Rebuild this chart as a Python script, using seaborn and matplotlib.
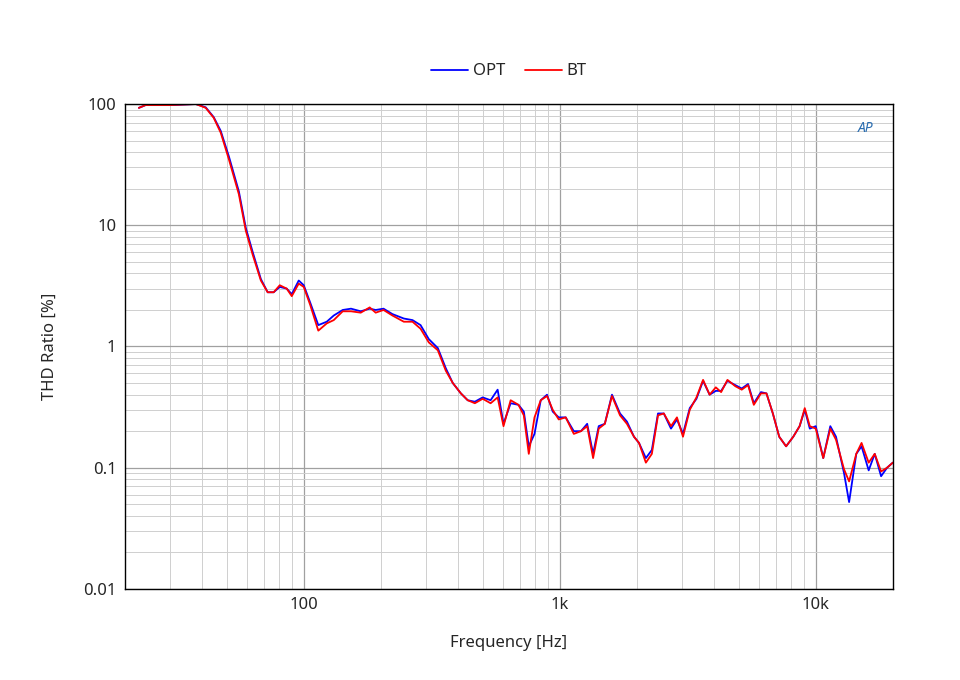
import matplotlib
matplotlib.use("Agg")
import matplotlib.pyplot as plt
import seaborn as sns
import pandas as pd
from matplotlib.ticker import FixedLocator, NullFormatter, LogLocator

freq = [22.7,24.1,30,37.9,41.4,44.5,47.4,51,55.8,59.4,63.2,68,72.3,76.3,80.6,85.8,89.8,95.6,100,106,114,123,131,142,153,167,181,191,205,222,246,266,286,308,334,359,382,411,437,466,500,537,572,603,643,690,724,757,797,843,892,939,991,1055,1135,1210,1280,1350,1420,1500,1600,1720,1830,1950,2040,2170,2290,2420,2550,2720,2870,3030,3220,3420,3630,3850,4070,4270,4520,4850,5140,5440,5730,6110,6420,6800,7200,7660,8170,8650,9060,9480,10000,10700,11400,12000,12900,13500,14400,15100,16100,17000,18000,19000,20000]
bt = [93,98,98,100,93,77,58,35,18,9,5.7,3.5,2.8,2.8,3.2,3.0,2.6,3.3,3.1,2.2,1.35,1.55,1.65,1.95,1.95,1.9,2.1,1.9,2.0,1.8,1.6,1.6,1.4,1.08,0.93,0.63,0.5,0.41,0.36,0.34,0.37,0.34,0.38,0.22,0.36,0.33,0.27,0.13,0.26,0.36,0.39,0.30,0.25,0.26,0.19,0.2,0.22,0.12,0.21,0.23,0.39,0.27,0.23,0.18,0.16,0.11,0.13,0.27,0.28,0.22,0.26,0.18,0.30,0.38,0.53,0.40,0.46,0.42,0.53,0.47,0.44,0.48,0.33,0.41,0.41,0.28,0.18,0.15,0.18,0.22,0.31,0.22,0.21,0.12,0.21,0.17,0.097,0.077,0.13,0.16,0.11,0.13,0.093,0.1,0.11]
opt = [93,98,98,100,94,78,60,37,19,9.5,6.0,3.6,2.8,2.8,3.1,3.0,2.7,3.5,3.2,2.3,1.5,1.6,1.8,2.0,2.05,1.95,2.05,2.0,2.05,1.85,1.7,1.65,1.5,1.15,0.97,0.66,0.5,0.41,0.36,0.35,0.38,0.36,0.44,0.23,0.34,0.33,0.29,0.15,0.19,0.36,0.4,0.29,0.26,0.26,0.2,0.2,0.23,0.13,0.22,0.23,0.4,0.28,0.24,0.18,0.16,0.12,0.14,0.28,0.28,0.21,0.25,0.19,0.31,0.37,0.52,0.40,0.43,0.43,0.52,0.48,0.45,0.49,0.34,0.42,0.41,0.28,0.18,0.15,0.18,0.22,0.3,0.21,0.22,0.12,0.22,0.18,0.09,0.052,0.13,0.15,0.095,0.13,0.085,0.1,0.11]

df = pd.concat([pd.DataFrame({"f":freq,"v":opt,"s":"OPT"}),
                pd.DataFrame({"f":freq,"v":bt,"s":"BT"})])

sns.set_style("white")
plt.rcParams['font.family'] = ['Noto Sans', 'DejaVu Sans']
fig = plt.figure(figsize=(9.6,6.8), dpi=100)
ax = fig.add_axes([0.130,0.134,0.800,0.713])
sns.lineplot(data=df, x="f", y="v", hue="s", palette={"OPT":"#0000ff","BT":"#ff0000"},
             ax=ax, linewidth=1.3, estimator=None, sort=False)
ax.set_xscale("log"); ax.set_yscale("log")
ax.set_xlim(20,20000); ax.set_ylim(0.01,100)
ax.xaxis.set_major_locator(FixedLocator([100,1000,10000]))
ax.set_xticklabels(["100","1k","10k"])
ax.xaxis.set_minor_locator(LogLocator(base=10, subs=range(2,10), numticks=20))
ax.xaxis.set_minor_formatter(NullFormatter())
ax.yaxis.set_major_locator(FixedLocator([0.01,0.1,1,10,100]))
ax.set_yticklabels(["0.01","0.1","1","10","100"])
ax.yaxis.set_minor_locator(LogLocator(base=10, subs=range(2,10), numticks=20))
ax.yaxis.set_minor_formatter(NullFormatter())
ax.grid(True, which="major", color="#a0a0a0", linewidth=0.9)
ax.grid(True, which="minor", color="#cfcfcf", linewidth=0.7)
ax.tick_params(which="both", length=0, labelsize=12, pad=6)
for sp in ax.spines.values():
    sp.set_color("black"); sp.set_linewidth(1)
ax.set_xlabel("Frequency [Hz]", fontsize=12, labelpad=16)
ax.set_ylabel("THD Ratio [%]", fontsize=12, labelpad=18)
ax.legend(loc="lower center", bbox_to_anchor=(0.5,1.02), ncol=2, frameon=False,
          fontsize=12, handlelength=2.2, columnspacing=1.2, handletextpad=0.3, title=None)
ax.text(0.975,0.965,"AP", transform=ax.transAxes, ha="right", va="top",
        color="#2a6db0", fontsize=10, style="italic", fontweight="bold")
fig.savefig("out.png", dpi=100)
